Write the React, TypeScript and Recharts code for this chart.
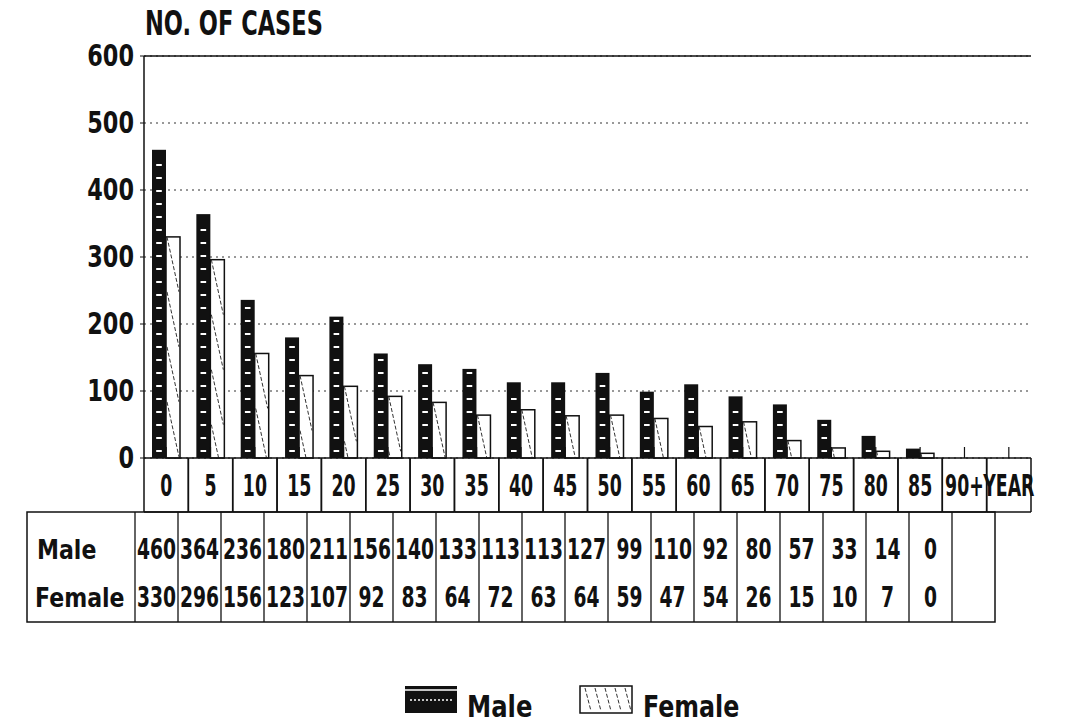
import React from 'react';
import { BarChart, Bar, XAxis, YAxis, CartesianGrid, ReferenceLine } from 'recharts';

const ageGroups = ['0', '5', '10', '15', '20', '25', '30', '35', '40', '45', '50', '55', '60', '65', '70', '75', '80', '85', '90+', 'YEAR'];
const maleCases = [460, 364, 236, 180, 211, 156, 140, 133, 113, 113, 127, 99, 110, 92, 80, 57, 33, 14, 0, null];
const femaleCases = [330, 296, 156, 123, 107, 92, 83, 64, 72, 63, 64, 59, 47, 54, 26, 15, 10, 7, 0, null];
const yTicks = [0, 100, 200, 300, 400, 500, 600];

const data = ageGroups.map((age, i) => ({ age, male: maleCases[i], female: femaleCases[i] }));

const FONT = '"DejaVu Sans", sans-serif';
const INK = '#111';

// the scanned lettering is tall and narrow, so squeeze bold text sideways
const Narrow = ({ x, y, sx, sy = 1.1, size, anchor = 'middle', children }: any) => (
  <text
    transform={`translate(${x},${y}) scale(${sx},${sy})`}
    textAnchor={anchor}
    fontFamily={FONT}
    fontWeight="bold"
    fontSize={size}
    fill={INK}
  >
    {children}
  </text>
);

const MaleBar = (props: any) => {
  const { x, y, width, height } = props;
  if (!height || height <= 0) return <g />;
  const dashes = [];
  for (let d = y + height - 8; d > y + 3; d -= 13) {
    dashes.push(<rect key={d} x={x + width * 0.3} y={d} width={width * 0.4} height={2} fill="#fff" />);
  }
  return (
    <g>
      <rect x={x} y={y} width={width} height={height} fill={INK} />
      {dashes}
    </g>
  );
};

const FemaleBar = (props: any) => {
  const { x, y, width, height } = props;
  if (!height || height <= 0) return <g />;
  const step = 55;
  const lines = [];
  for (let t = y; t < y + height - 2; t += step) {
    const bottom = Math.min(t + step, y + height);
    const frac = (bottom - t) / step;
    lines.push(
      <line key={t} x1={x + 1} y1={t} x2={x + 1 + frac * (width - 2)} y2={bottom}
        stroke="#333" strokeWidth={1} strokeDasharray="4 2" />
    );
  }
  return (
    <g>
      <rect x={x} y={y} width={width} height={height} fill="#fff" stroke={INK} strokeWidth={1.5} />
      {lines}
    </g>
  );
};

const CategoryTick = (props: any) => {
  const { x, y, payload } = props;
  const half = payload?.offset || 22.2;
  return (
    <g>
      <line x1={x - half} y1={y} x2={x - half} y2={y + 54} stroke={INK} strokeWidth={1.5} />
      <line x1={x + half} y1={y} x2={x + half} y2={y + 54} stroke={INK} strokeWidth={1.5} />
      <line x1={x - half} y1={y + 54} x2={x + half} y2={y + 54} stroke={INK} strokeWidth={1.5} />
      <line x1={x} y1={y - 11} x2={x} y2={y} stroke={INK} strokeWidth={1.2} />
      <Narrow x={x} y={y + 38} sx={0.62} size={28}>{payload.value}</Narrow>
    </g>
  );
};

const ValueTick = (props: any) => {
  const { x, y, payload } = props;
  return <Narrow x={x} y={y + 10} sx={0.83} size={27} anchor="end">{payload.value}</Narrow>;
};

// data table under the axis, scanned slightly narrower than the category row
const TABLE_LEFT = 27;
const LABEL_RIGHT = 135;
const COL_W = 43;
const TABLE_TOP = 512;
const TABLE_BOTTOM = 622;

const DataTable = () => {
  const right = LABEL_RIGHT + COL_W * ageGroups.length;
  return (
    <g>
      <rect x={TABLE_LEFT} y={TABLE_TOP} width={right - TABLE_LEFT} height={TABLE_BOTTOM - TABLE_TOP}
        fill="none" stroke={INK} strokeWidth={1.5} />
      {ageGroups.map((_, i) => (
        <line key={i} x1={LABEL_RIGHT + COL_W * i} y1={TABLE_TOP} x2={LABEL_RIGHT + COL_W * i} y2={TABLE_BOTTOM}
          stroke={INK} strokeWidth={1.3} />
      ))}
      <Narrow x={37} y={559} sx={0.92} size={24} anchor="start">Male</Narrow>
      <Narrow x={35} y={607} sx={0.92} size={24} anchor="start">Female</Narrow>
      {maleCases.map((v, i) => v == null ? null : (
        <Narrow key={'m' + i} x={LABEL_RIGHT + COL_W * i + COL_W / 2} y={559} sx={0.72} size={26}>{v}</Narrow>
      ))}
      {femaleCases.map((v, i) => v == null ? null : (
        <Narrow key={'f' + i} x={LABEL_RIGHT + COL_W * i + COL_W / 2} y={607} sx={0.72} size={26}>{v}</Narrow>
      ))}
    </g>
  );
};

const LegendBox = () => {
  const hatch = [0, 1, 2, 3, 4];
  return (
    <g>
      <rect x={405} y={686} width={52} height={27} fill={INK} />
      <line x1={405} y1={690} x2={457} y2={690} stroke="#fff" strokeWidth={1.5} />
      <line x1={410} y1={700} x2={452} y2={700} stroke="#fff" strokeWidth={1.5} strokeDasharray="2 2" />
      <Narrow x={467} y={717} sx={0.9} size={27} anchor="start">Male</Narrow>

      <rect x={580} y={686} width={52} height={27} fill="#fff" stroke={INK} strokeWidth={1.5} />
      {hatch.map((k) => (
        <line key={k} x1={585 + k * 10} y1={688} x2={591 + k * 10} y2={711} stroke="#333" strokeWidth={1} strokeDasharray="4 2" />
      ))}
      <Narrow x={643} y={717} sx={0.88} size={27} anchor="start">Female</Narrow>
    </g>
  );
};

export default function App() {
  return (
    <div style={{ position: 'absolute', left: 0, top: 0, width: 1082, height: 724, background: '#fff' }}>
      <BarChart
        width={1082}
        height={724}
        data={data}
        margin={{ top: 56, right: 51, bottom: 96, left: 80 }}
        barSize={14}
        barGap={0}
      >
        <CartesianGrid vertical={false} stroke="#333" strokeDasharray="2 4" />
        <XAxis
          dataKey="age"
          interval={0}
          height={170}
          tickLine={false}
          tickSize={0}
          tickMargin={0}
          axisLine={{ stroke: INK, strokeWidth: 1.5 }}
          tick={<CategoryTick />}
        />
        <YAxis
          domain={[0, 600]}
          ticks={yTicks}
          width={64}
          tickSize={4}
          tickMargin={6}
          tickLine={{ stroke: INK }}
          axisLine={{ stroke: INK, strokeWidth: 1.5 }}
          tick={<ValueTick />}
        />
        <YAxis
          yAxisId="frame"
          orientation="right"
          domain={[0, 600]}
          width={0}
          tick={false}
          tickLine={false}
          axisLine={{ stroke: INK, strokeWidth: 1.5 }}
        />
        <ReferenceLine y={600} stroke={INK} strokeWidth={1.5} />
        <Bar dataKey="male" shape={<MaleBar />} isAnimationActive={false} />
        <Bar dataKey="female" shape={<FemaleBar />} isAnimationActive={false} />
      </BarChart>
      <svg width={1082} height={724} style={{ position: 'absolute', left: 0, top: 0, pointerEvents: 'none' }}>
        <Narrow x={145} y={35} sx={0.75} size={30} anchor="start">NO. OF CASES</Narrow>
        <DataTable />
        <LegendBox />
      </svg>
    </div>
  );
}
